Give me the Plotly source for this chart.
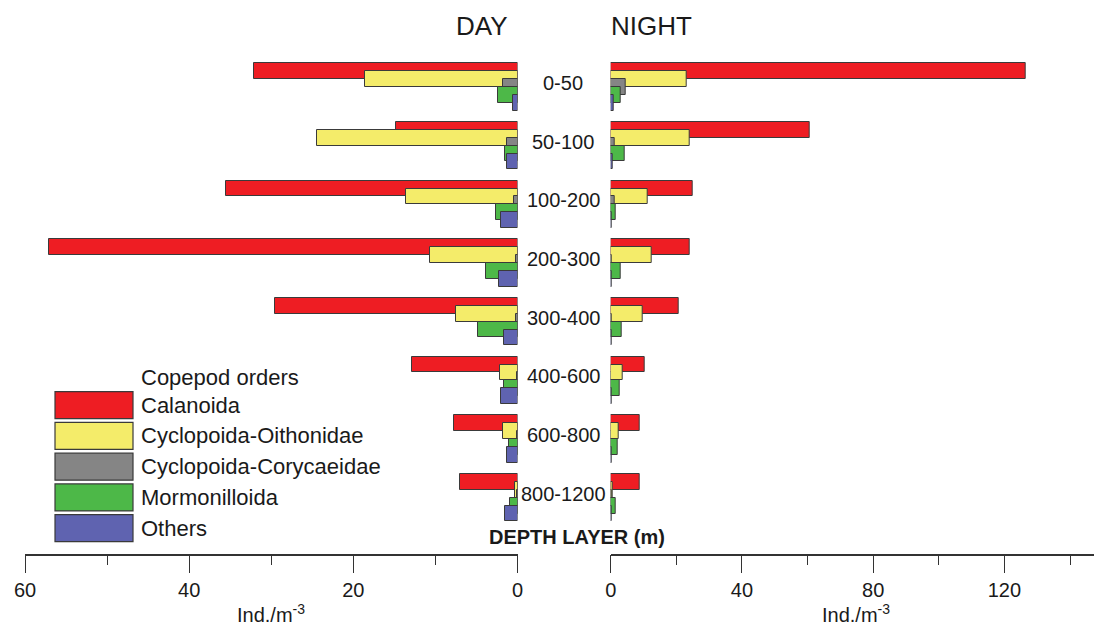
import plotly.graph_objects as go

# Depth layers (m), top to bottom
depth_layers = ["0-50", "50-100", "100-200", "200-300", "300-400", "400-600", "600-800", "800-1200"]

orders = ["Calanoida", "Cyclopoida-Oithonidae", "Cyclopoida-Corycaeidae", "Mormonilloida", "Others"]
order_colors = ["#EE1D23", "#F4EC6A", "#858585", "#4DB848", "#5F63B0"]

# Abundance (Ind./m-3) by order, daytime
day_calanoida = [32.1, 14.8, 35.5, 57.1, 29.5, 12.9, 7.7, 7.05]
day_oithonidae = [18.6, 24.4, 13.6, 10.7, 7.5, 2.1, 1.8, 0.3]
day_corycaeidae = [1.8, 1.25, 0.4, 0.2, 0.2, 0.1, 0.1, 0.1]
day_mormonilloida = [2.4, 1.5, 2.65, 3.8, 4.85, 1.7, 1.0, 0.9]
day_others = [0.5, 1.25, 2.0, 2.3, 1.7, 2.0, 1.3, 1.5]

# Abundance (Ind./m-3) by order, night-time
night_calanoida = [126.4, 60.5, 25.0, 24.0, 20.7, 10.4, 8.9, 8.7]
night_oithonidae = [23.3, 24.2, 11.3, 12.5, 9.75, 3.65, 2.3, 0.5]
night_corycaeidae = [4.7, 1.3, 1.2, 0.4, 0.3, 0.1, 0.1, 0.3]
night_mormonilloida = [3.1, 4.4, 1.5, 2.9, 3.5, 2.6, 2.0, 1.5]
night_others = [1.0, 0.5, 0.2, 0.2, 0.2, 0.2, 0.2, 0.2]

day_series = [day_calanoida, day_oithonidae, day_corycaeidae, day_mormonilloida, day_others]
night_series = [night_calanoida, night_oithonidae, night_corycaeidae, night_mormonilloida, night_others]

W, H = 1094, 628
FONT = "Liberation Sans, Arial, sans-serif"
TXT = "#1a1a1a"
EDGE = "#3a3a3a"

# each bar is offset by half its thickness from the previous one (overlapping)
step = 0.1347
bar_w = 2 * step

fig = go.Figure()
for k, name in enumerate(orders):
    ypos = [i + (k - 2) * step for i in range(len(depth_layers))]
    for series, xa, ya in ((day_series, "x", "y"), (night_series, "x2", "y2")):
        fig.add_trace(go.Bar(
            x=series[k], y=ypos, orientation="h", width=bar_w,
            marker=dict(color=order_colors[k], line=dict(color=EDGE, width=1)),
            name=name, showlegend=False, xaxis=xa, yaxis=ya,
        ))

# pixel helpers for layout placement
def px_x(p):
    return p / W

def px_y(p):
    return 1 - p / H

axis_bottom = 553.7
y_range = [(axis_bottom - 87) / 58.67, -87 / 58.67]
ydom = [px_y(axis_bottom), 1]

axis_common = dict(
    showline=True, linecolor="#333333", linewidth=1.5,
    ticks="outside", ticklen=18, tickwidth=1.2, tickcolor="#333333",
    showgrid=False, zeroline=False, automargin=False,
    tickfont=dict(family=FONT, size=20, color=TXT),
)

fig.update_layout(
    width=W, height=H,
    margin=dict(l=0, r=0, t=0, b=0, pad=0, autoexpand=False),
    paper_bgcolor="white", plot_bgcolor="white",
    barmode="overlay", bargap=0,
    showlegend=False,
    xaxis=dict(domain=[px_x(25), px_x(517.5)], range=[60, 0], anchor="y",
               tickvals=[60, 40, 20, 0],
               minor=dict(tickvals=[50, 30, 10], ticks="outside", ticklen=10,
                          tickwidth=1.2, tickcolor="#333333"),
               **axis_common),
    xaxis2=dict(domain=[px_x(610.7), 1], range=[0, 147.3], anchor="y2",
                tickvals=[0, 40, 80, 120],
                minor=dict(tickvals=[20, 60, 100, 140], ticks="outside", ticklen=10,
                           tickwidth=1.2, tickcolor="#333333"),
                **axis_common),
    yaxis=dict(domain=ydom, range=y_range, visible=False, anchor="x", automargin=False),
    yaxis2=dict(domain=ydom, range=y_range, visible=False, anchor="x2", automargin=False),
)

ann = []
# depth layer labels between the two panels
for i, lab in enumerate(depth_layers):
    ann.append(dict(x=px_x(563), xref="paper", y=i, yref="y", yshift=4,
                    text=lab, showarrow=False, xanchor="center", yanchor="middle",
                    font=dict(family=FONT, size=20, color=TXT)))

ann += [
    dict(x=px_x(510), y=px_y(26), xref="paper", yref="paper", text="DAY",
         showarrow=False, xanchor="right", yanchor="middle",
         font=dict(family=FONT, size=26, color=TXT)),
    dict(x=px_x(609), y=px_y(26), xref="paper", yref="paper", text="NIGHT",
         showarrow=False, xanchor="left", yanchor="middle",
         font=dict(family=FONT, size=26, color=TXT)),
    dict(x=px_x(577), y=px_y(537), xref="paper", yref="paper", text="<b>DEPTH LAYER (m)</b>",
         showarrow=False, xanchor="center", yanchor="middle",
         font=dict(family=FONT, size=20, color=TXT)),
    dict(x=px_x(271), y=0, xref="paper", yref="paper", text="Ind./m<sup>-3</sup>",
         showarrow=False, xanchor="center", yanchor="bottom",
         font=dict(family=FONT, size=20, color=TXT)),
    dict(x=px_x(856), y=0, xref="paper", yref="paper", text="Ind./m<sup>-3</sup>",
         showarrow=False, xanchor="center", yanchor="bottom",
         font=dict(family=FONT, size=20, color=TXT)),
    dict(x=px_x(139), y=px_y(377), xref="paper", yref="paper", text="Copepod orders",
         showarrow=False, xanchor="left", yanchor="middle",
         font=dict(family=FONT, size=22, color=TXT)),
]

# legend: large swatches with labels
shapes = []
for k, name in enumerate(orders):
    top = 391.7 + k * 30.75
    bot = top + 27
    shapes.append(dict(type="rect", xref="paper", yref="paper",
                       x0=px_x(55), x1=px_x(133), y0=px_y(bot), y1=px_y(top),
                       fillcolor=order_colors[k], line=dict(color=EDGE, width=1.2)))
    ann.append(dict(x=px_x(139), y=px_y((top + bot) / 2), xref="paper", yref="paper",
                    text=name, showarrow=False, xanchor="left", yanchor="middle",
                    font=dict(family=FONT, size=22, color=TXT)))

fig.update_layout(annotations=ann, shapes=shapes)
fig.write_html("out.html")
